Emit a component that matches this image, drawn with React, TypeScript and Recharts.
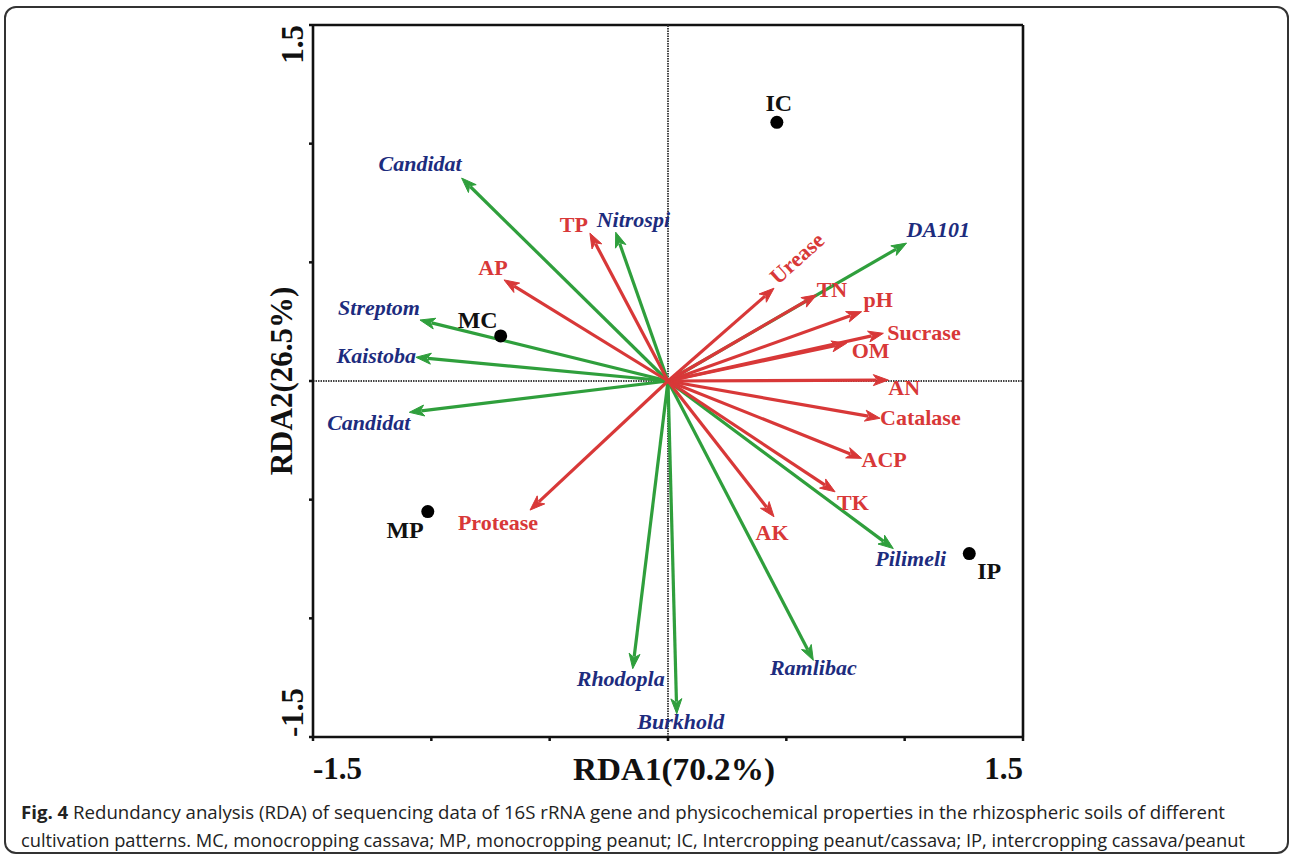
import React from 'react';
import { ScatterChart, Scatter, XAxis, YAxis, ReferenceLine } from 'recharts';

// ---- data ----
const speciesNames = ['Candidat', 'Nitrospi', 'Streptom', 'Kaistoba', 'Candidat', 'Rhodopla', 'Burkhold', 'Ramlibac', 'Pilimeli', 'DA101'];
const speciesX = [-0.872, -0.221, -1.048, -1.065, -1.093, -0.149, 0.037, 0.614, 0.952, 1.008];
const speciesY = [0.855, 0.627, 0.257, 0.100, -0.132, -1.212, -1.402, -1.177, -0.706, 0.581];

const envNames = ['TP', 'AP', 'Urease', 'TN', 'pH', 'Sucrase', 'OM', 'AN', 'Catalase', 'ACP', 'TK', 'AK', 'Protease'];
const envX = [-0.330, -0.693, 0.448, 0.628, 0.818, 0.910, 0.755, 0.931, 0.896, 0.818, 0.706, 0.448, -0.583];
const envY = [0.623, 0.426, 0.391, 0.363, 0.292, 0.201, 0.159, 0.004, -0.157, -0.326, -0.467, -0.572, -0.544];

const sampleNames = ['IC', 'MC', 'MP', 'IP'];
const sampleX = [0.46, -0.707, -1.015, 1.273];
const sampleY = [1.09, 0.19, -0.55, -0.727];

const axisTicks = [-1.5, -1, -0.5, 0, 0.5, 1, 1.5];
const xTitle = 'RDA1(70.2%)';
const yTitle = 'RDA2(26.5%)';
const captionBold = 'Fig. 4';
const captionLine1 = ' Redundancy analysis (RDA) of sequencing data of 16S rRNA gene and physicochemical properties in the rhizospheric soils of different';
const captionLine2 = 'cultivation patterns. MC, monocropping cassava; MP, monocropping peanut; IC, Intercropping peanut/cassava; IP, intercropping cassava/peanut';

// ---- label layout (pixel offsets from the arrow tip / point) ----
type Place = [number, number, 'start' | 'middle' | 'end', number?];
const speciesPlace: Place[] = [
  [0, -7, 'end'], [-19, -5, 'start'], [0, -5, 'end'], [0, 6, 'end'], [1, 18, 'end'],
  [32, 17, 'end'], [4, 15, 'middle'], [0, 15, 'middle'], [-18, 17, 'start'], [0, -6, 'start'],
];
const envPlace: Place[] = [
  [-2, -1, 'end'], [-11, -5, 'middle'], [4, -3, 'start', -42], [0, 2, 'start'], [2, -5, 'start'],
  [4, 7, 'start'], [5, 15, 'start'], [0, 15, 'start'], [0, 7, 'start'], [0, 9, 'start'],
  [2, 18, 'start'], [-2, 23, 'middle'], [-32, 20, 'middle'],
];
const samplePlace: Place[] = [[2, -11, 'middle'], [-3, -8, 'end'], [-4, 26, 'end'], [8, 25, 'start']];

const GREEN = '#2f9f3c';
const RED = '#d83838';
const BLUE = '#1d2c7e';
const SERIF = '"Liberation Serif", "Times New Roman", serif';

const arrowLine = (color: string) => (props: any) => {
  const pts = props.points;
  if (!pts || pts.length < 2) return <g />;
  const a = pts[0];
  const b = pts[1];
  const ang = Math.atan2(b.y - a.y, b.x - a.x);
  const L = 15;
  const W = 5.5;
  const bx = b.x - L * Math.cos(ang);
  const by = b.y - L * Math.sin(ang);
  const s = Math.sin(ang);
  const c = Math.cos(ang);
  const poly = `${b.x},${b.y} ${bx + W * s},${by - W * c} ${bx + 4 * c},${by + 4 * s} ${bx - W * s},${by + W * c}`;
  return (
    <g>
      <line x1={a.x} y1={a.y} x2={bx + 3 * c} y2={by + 3 * s} stroke={color} strokeWidth={3.2} />
      <polygon points={poly} fill={color} stroke={color} strokeWidth={1} strokeLinejoin="miter" />
    </g>
  );
};

const tipLabel = (place: Place, text: string, color: string, italic: boolean) => (props: any) => {
  const p = props.payload || {};
  if (!p.tip) return <g />;
  const [dx, dy, anchor, rot] = place;
  const x = props.cx + dx;
  const y = props.cy + dy;
  return (
    <text
      x={x}
      y={y}
      textAnchor={anchor}
      fill={color}
      fontFamily={SERIF}
      fontWeight={700}
      fontStyle={italic ? 'italic' : 'normal'}
      fontSize={22}
      transform={rot ? `rotate(${rot} ${x} ${y})` : undefined}
    >
      {text}
    </text>
  );
};

const sampleShape = (props: any) => {
  const i = props.payload.idx;
  const [dx, dy, anchor] = samplePlace[i];
  return (
    <g>
      <circle cx={props.cx} cy={props.cy} r={6.5} fill="#000" />
      <text x={props.cx + dx} y={props.cy + dy} textAnchor={anchor} fontFamily={SERIF} fontWeight={700} fontSize={24} fill="#111">
        {sampleNames[i]}
      </text>
    </g>
  );
};

const XTick = (p: any) => {
  const v = p.payload.value;
  if (v !== -1.5 && v !== 1.5) return <g />;
  return (
    <text x={p.x} y={p.y + 36} textAnchor={v < 0 ? 'start' : 'end'} fontFamily={SERIF} fontWeight={700} fontSize={31} fill="#111">
      {String(v)}
    </text>
  );
};

const YTick = (p: any) => {
  const v = p.payload.value;
  if (v !== -1.5 && v !== 1.5) return <g />;
  const x = p.x - 4;
  const y = p.y;
  return (
    <text x={x} y={y} textAnchor={v < 0 ? 'start' : 'end'} transform={`rotate(-90 ${x} ${y})`} fontFamily={SERIF} fontWeight={700} fontSize={31} fill="#111">
      {String(v)}
    </text>
  );
};

const XTitle = (props: any) => {
  const vb = props.viewBox;
  const cx = vb.x + vb.width / 2 + 6;
  return (
    <text x={cx - 101} y={vb.y + 43} fontFamily={SERIF} fontWeight={700} fontSize={31} fill="#111" textLength={202} lengthAdjust="spacingAndGlyphs">
      {xTitle}
    </text>
  );
};

const YTitle = (props: any) => {
  const vb = props.viewBox;
  const x = vb.x + vb.width - 21;
  const y = vb.y + vb.height / 2;
  return (
    <text x={x} y={y} textAnchor="middle" transform={`rotate(-90 ${x} ${y})`} fontFamily={SERIF} fontWeight={700} fontSize={31} fill="#111">
      {yTitle}
    </text>
  );
};

export default function App() {
  const samples = sampleNames.map((n, i) => ({ x: sampleX[i], y: sampleY[i], idx: i }));
  const axisStroke = { stroke: '#111', strokeWidth: 2.6 };
  return (
    <div style={{ position: 'absolute', left: 0, top: 0, width: 1290, height: 858, background: '#fff' }}>
      <div
        style={{
          position: 'absolute', left: 4, top: 6, width: 1285, height: 848, boxSizing: 'border-box',
          border: '2px solid #333', borderRadius: 12,
        }}
      />
      <div style={{ position: 'absolute', left: 0, top: 0 }}>
        <ScatterChart width={1100} height={800} margin={{ top: 25, right: 77, bottom: 3, left: 253 }}>
          <XAxis
            type="number" dataKey="x" domain={[-1.5, 1.5]} ticks={axisTicks} allowDataOverflow
            height={60} tickSize={4} axisLine={axisStroke} tickLine={{ stroke: '#111', strokeWidth: 2.5 }}
            tick={<XTick />} label={<XTitle />}
          />
          <YAxis
            type="number" dataKey="y" domain={[-1.5, 1.5]} ticks={axisTicks} allowDataOverflow
            width={60} tickSize={4} axisLine={axisStroke} tickLine={{ stroke: '#111', strokeWidth: 2.5 }}
            tick={<YTick />} label={<YTitle />}
          />
          <ReferenceLine x={1.5} stroke="#111" strokeWidth={2.6} />
          <ReferenceLine y={1.5} stroke="#111" strokeWidth={2.6} />
          <ReferenceLine x={0} stroke="#444" strokeWidth={2} strokeDasharray="1.5 1" />
          <ReferenceLine y={0} stroke="#444" strokeWidth={2} strokeDasharray="1.5 1" />
          {speciesNames.map((n, i) => (
            <Scatter
              key={'s' + i}
              data={[{ x: 0, y: 0, tip: false }, { x: speciesX[i], y: speciesY[i], tip: true }]}
              fill={GREEN}
              line={arrowLine(GREEN)}
              shape={tipLabel(speciesPlace[i], n, BLUE, true)}
              isAnimationActive={false}
            />
          ))}
          {envNames.map((n, i) => (
            <Scatter
              key={'e' + i}
              data={[{ x: 0, y: 0, tip: false }, { x: envX[i], y: envY[i], tip: true }]}
              fill={RED}
              line={arrowLine(RED)}
              shape={tipLabel(envPlace[i], n, RED, false)}
              isAnimationActive={false}
            />
          ))}
          <Scatter data={samples} fill="#000" shape={sampleShape} isAnimationActive={false} />
        </ScatterChart>
      </div>
      <svg width={1290} height={858} style={{ position: 'absolute', left: 0, top: 0, pointerEvents: 'none' }}>
        <text x={21} y={819} fontFamily='"Open Sans", sans-serif' fontSize={18} fill="#222" textLength={1204} lengthAdjust="spacingAndGlyphs">
          <tspan fontWeight={700}>{captionBold}</tspan>
          <tspan>{captionLine1}</tspan>
        </text>
        <text x={21} y={847} fontFamily='"Open Sans", sans-serif' fontSize={18} fill="#222" textLength={1224} lengthAdjust="spacingAndGlyphs">
          {captionLine2}
        </text>
      </svg>
    </div>
  );
}
